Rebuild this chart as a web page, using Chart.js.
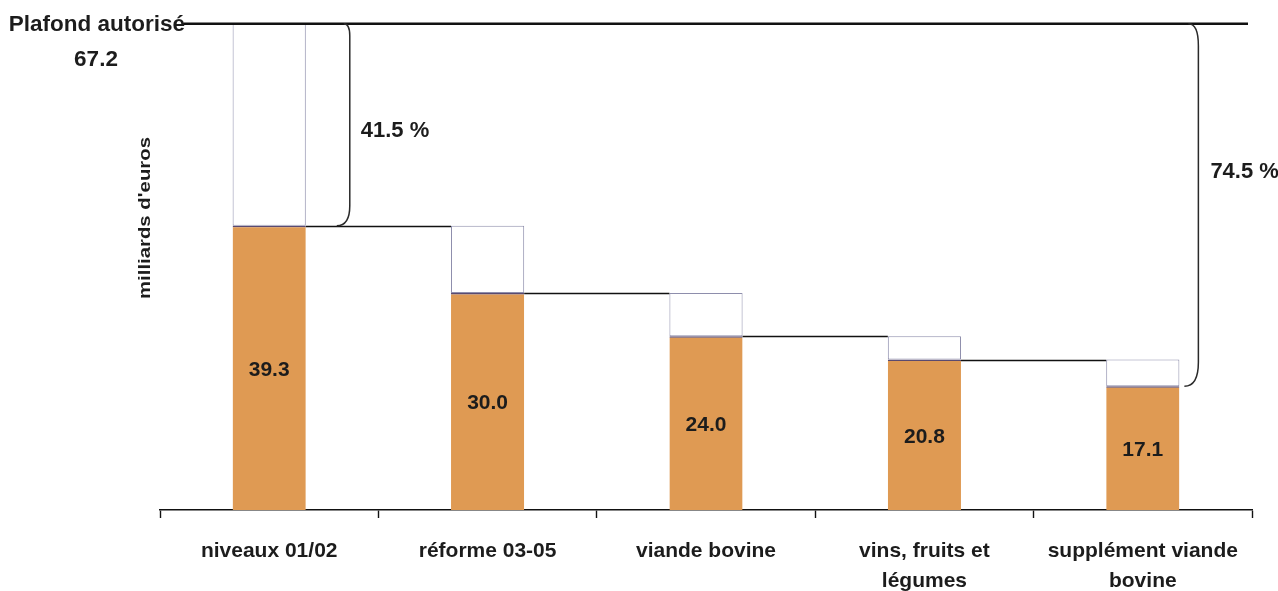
<!DOCTYPE html>
<html lang="fr">
<head>
<meta charset="utf-8">
<title>Plafond autorisé – milliards d'euros</title>
<script src="https://cdn.jsdelivr.net/npm/chart.js@4.4.1/dist/chart.umd.min.js"></script>
<style>
  html, body { margin: 0; padding: 0; background: #ffffff; }
  #wrap { position: relative; width: 1278px; height: 591px; }
</style>
</head>
<body>
<div id="wrap"><canvas id="c" width="1278" height="591"></canvas></div>
<script>
// Category labels (multi-line where wrapped)
const categories = [
  ['niveaux 01/02'],
  ['réforme 03-05'],
  ['viande bovine'],
  ['vins, fruits et', 'légumes'],
  ['supplément viande', 'bovine']
];
// Amount reached after each step (milliards d'euros)
const amounts = [39.3, 30.0, 24.0, 20.8, 17.1];
// Level each step starts from
const startLevels = [67.2, 39.3, 30.0, 24.0, 20.8];
// Authorised ceiling
const ceiling = 67.2;
const ceilingLabel = 'Plafond autorisé';
// Share labels shown beside the brackets
const shareLabels = ['41.5 %', '74.5 %'];
const axisTitle = "milliards d'euros";

const INK = '#1c1c1c';
const FONT = '"Liberation Sans", Arial, Helvetica, sans-serif';

function bracket(ctx, xTop, xMid, xBot, yTop, yBot, rTop, rBot) {
  ctx.beginPath();
  ctx.moveTo(xTop, yTop);
  ctx.quadraticCurveTo(xMid, yTop, xMid, yTop + rTop);
  ctx.lineTo(xMid, yBot - rBot);
  ctx.quadraticCurveTo(xMid, yBot, xBot, yBot);
  ctx.stroke();
}

const annotations = {
  id: 'annotations',
  afterDatasetsDraw(chart) {
    const { ctx, chartArea, scales: { y } } = chart;
    const bars = chart.getDatasetMeta(0).data;
    ctx.save();

    // step connectors between consecutive bars
    ctx.strokeStyle = '#111';
    ctx.lineWidth = 1.6;
    for (let i = 0; i < bars.length - 1; i++) {
      const a = bars[i], b = bars[i + 1];
      const yy = Math.round(y.getPixelForValue(amounts[i])) + 0.5;
      ctx.beginPath();
      ctx.moveTo(a.x + a.width / 2, yy);
      ctx.lineTo(b.x - b.width / 2, yy);
      ctx.stroke();
    }

    // ceiling line and its label
    const yc = y.getPixelForValue(ceiling);
    ctx.lineWidth = 2.6;
    ctx.beginPath();
    ctx.moveTo(184, yc);
    ctx.lineTo(chartArea.right - 4, yc);
    ctx.stroke();

    ctx.fillStyle = INK;
    ctx.font = 'bold 22.5px ' + FONT;
    ctx.textBaseline = 'middle';
    ctx.textAlign = 'right';
    ctx.fillText(ceilingLabel, 185, yc + 1);
    ctx.textAlign = 'center';
    ctx.fillText(ceiling.toFixed(1), 96, yc + 36);

    // values inside the filled bars
    ctx.font = 'bold 21px ' + FONT;
    bars.forEach((bar, i) => {
      ctx.fillText(amounts[i].toFixed(1), bar.x, (bar.y + bar.base) / 2 + 2);
    });

    // brackets spanning the reductions
    ctx.strokeStyle = '#2a2a2a';
    ctx.lineWidth = 1.5;
    const first = bars[0], last = bars[bars.length - 1];
    const r1 = first.x + first.width / 2;
    const r5 = last.x + last.width / 2;
    const yB1 = y.getPixelForValue(amounts[0]);
    const yB5 = y.getPixelForValue(amounts[amounts.length - 1]);
    bracket(ctx, r1 + 38, r1 + 44, r1 + 31, yc, yB1, 12, 20);
    bracket(ctx, r5 + 9, r5 + 19, r5 + 5, yc, yB5, 22, 24);

    ctx.font = 'bold 22px ' + FONT;
    ctx.textAlign = 'left';
    ctx.fillText(shareLabels[0], r1 + 55, yc + (yB1 - yc) * 0.53);
    ctx.fillText(shareLabels[1], r5 + 31, yc + (yB5 - yc) * 0.41);

    // vertical axis title
    ctx.save();
    ctx.translate(145, 218);
    ctx.rotate(-Math.PI / 2);
    ctx.font = 'bold 15px ' + FONT;
    const w = ctx.measureText(axisTitle).width;
    ctx.scale(162 / w, 1.1);
    ctx.textAlign = 'center';
    ctx.fillText(axisTitle, 0, 0);
    ctx.restore();

    ctx.restore();
  }
};

new Chart(document.getElementById('c'), {
  type: 'bar',
  data: {
    labels: categories,
    datasets: [
      {
        label: 'montant',
        data: amounts,
        backgroundColor: '#df9a53',
        borderColor: '#5a4a70',
        borderWidth: { top: 1.5, left: 0, right: 0, bottom: 0 },
        borderSkipped: 'start',
        grouped: false,
        barPercentage: 0.335,
        categoryPercentage: 1
      },
      {
        label: 'réduction',
        data: amounts.map((v, i) => [v, startLevels[i]]),
        backgroundColor: '#ffffff',
        borderColor: '#8e8eac',
        borderWidth: 1,
        borderSkipped: false,
        grouped: false,
        barPercentage: 0.335,
        categoryPercentage: 1
      }
    ]
  },
  options: {
    responsive: false,
    devicePixelRatio: 1,
    animation: false,
    layout: { padding: { left: 160, right: 26, top: 5, bottom: 0 } },
    plugins: {
      legend: { display: false },
      tooltip: { enabled: false }
    },
    scales: {
      x: {
        offset: true,
        afterFit(scale) { scale.height = 81; },
        border: { display: true, color: '#111', width: 1.6 },
        grid: {
          display: true,
          offset: true,
          drawOnChartArea: false,
          drawTicks: true,
          tickLength: 8,
          tickColor: '#111',
          tickWidth: 1.4
        },
        ticks: {
          color: INK,
          padding: 18,
          maxRotation: 0,
          autoSkip: false,
          font: { family: FONT, size: 21, weight: 'bold', lineHeight: 1.42 }
        }
      },
      y: {
        display: false,
        min: 0,
        max: 69.8
      }
    }
  },
  plugins: [annotations]
});
</script>
</body>
</html>
